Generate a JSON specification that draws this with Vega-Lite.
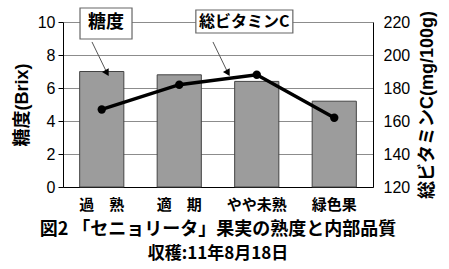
{
  "$schema": "https://vega.github.io/schema/vega-lite/v6.json",
  "width": 310,
  "height": 165,
  "autosize": "none",
  "padding": {"left": 63, "top": 22, "right": 76, "bottom": 82},
  "background": "white",
  "config": {
    "font": "Liberation Sans, Noto Sans CJK JP",
    "view": {"stroke": null},
    "axis": {
      "labelFont": "Liberation Sans, Noto Sans CJK JP",
      "titleFont": "Liberation Sans, Noto Sans CJK JP",
      "labelFontSize": 16,
      "labelColor": "black",
      "titleFontSize": 18,
      "titleColor": "black",
      "titleFontWeight": "bold",
      "domainColor": "black",
      "tickColor": "black",
      "gridColor": "#8c8c8c"
    }
  },
  "title": {
    "text": "図2 「セニョリータ」果実の熟度と内部品質",
    "subtitle": "収穫:11年8月18日",
    "orient": "bottom",
    "anchor": "middle",
    "frame": "group",
    "font": "Noto Sans CJK JP",
    "subtitleFont": "Noto Sans CJK JP",
    "fontSize": 18,
    "subtitleFontSize": 17,
    "fontWeight": "bold",
    "subtitleFontWeight": "bold",
    "color": "black",
    "subtitleColor": "black",
    "offset": 9,
    "subtitlePadding": 7
  },
  "datasets": {
    "main": [
      {"stage": "過　熟", "brix": 7.0, "vitc": 167},
      {"stage": "適　期", "brix": 6.8, "vitc": 182},
      {"stage": "やや未熟", "brix": 6.4, "vitc": 188},
      {"stage": "緑色果", "brix": 5.2, "vitc": 162}
    ],
    "arrows": [
      {"label": "糖度", "x1": 0.374, "y1": 8.79, "x2": 0.568, "y2": 6.91},
      {"label": "総ビタミンC", "x1": 1.935, "y1": 8.79, "x2": 2.129, "y2": 6.91}
    ],
    "box1": [{"label": "糖度", "bx": 0.555, "by": 9.91}],
    "box2": [{"label": "総ビタミンC", "bx": 2.34, "by": 10.03}]
  },
  "layer": [
    {
      "data": {"name": "main"},
      "mark": {"type": "bar", "fill": "#9c9c9c", "stroke": "#444444", "strokeWidth": 1},
      "encoding": {
        "x": {
          "field": "stage", "type": "nominal", "sort": null,
          "scale": {"paddingInner": 0.43, "paddingOuter": 0.215},
          "axis": {"title": null, "labelAngle": 0, "ticks": false, "labelPadding": 17, "labelFontSize": 15, "labelFont": "Noto Sans CJK JP", "labelFontWeight": "bold", "labelBaseline": "middle"}
        },
        "y": {
          "field": "brix", "type": "quantitative",
          "scale": {"domain": [0, 10]},
          "axis": {"title": "糖度(Brix)", "values": [0, 2, 4, 6, 8, 10], "grid": true, "tickSize": 5, "labelPadding": 3, "titlePadding": 6}
        }
      }
    },
    {
      "data": {"name": "main"},
      "mark": {"type": "line", "color": "black", "strokeWidth": 3.5, "point": {"filled": true, "color": "black", "size": 70}},
      "encoding": {
        "x": {
          "field": "stage", "type": "nominal", "sort": null,
          "scale": {"paddingInner": 0.43, "paddingOuter": 0.215},
          "axis": null
        },
        "y": {
          "field": "vitc", "type": "quantitative",
          "scale": {"domain": [120, 220]},
          "axis": {"orient": "right", "title": "総ビタミンC(mg/100g)", "values": [120, 140, 160, 180, 200, 220], "grid": false, "ticks": false, "labelPadding": 10, "titlePadding": 9, "titleAngle": 270, "titleBaseline": "top"}
        }
      }
    },
    {
      "data": {"name": "arrows"},
      "mark": {"type": "rule", "color": "#555555", "strokeWidth": 1},
      "encoding": {
        "x": {"field": "x1", "type": "quantitative", "scale": {"domain": [0, 4]}, "axis": null},
        "x2": {"field": "x2"},
        "y": {"field": "y1", "type": "quantitative", "scale": {"domain": [0, 10]}, "axis": null},
        "y2": {"field": "y2"}
      }
    },
    {
      "data": {"name": "arrows"},
      "mark": {"type": "point", "shape": "triangle-down", "filled": true, "color": "black", "size": 60, "angle": 330, "opacity": 1},
      "encoding": {
        "x": {"field": "x2", "type": "quantitative", "scale": {"domain": [0, 4]}, "axis": null},
        "y": {"field": "y2", "type": "quantitative", "scale": {"domain": [0, 10]}, "axis": null}
      }
    },
    {
      "data": {"name": "box1"},
      "mark": {"type": "point", "shape": "M-1,-0.596L1,-0.596L1,0.596L-1,0.596Z", "filled": true, "fill": "white", "stroke": "#666666", "strokeWidth": 1.2, "size": 2704, "opacity": 1},
      "encoding": {
        "x": {"field": "bx", "type": "quantitative", "scale": {"domain": [0, 4]}, "axis": null},
        "y": {"field": "by", "type": "quantitative", "scale": {"domain": [0, 10]}, "axis": null}
      }
    },
    {
      "data": {"name": "box2"},
      "mark": {"type": "point", "shape": "M-1,-0.237L1,-0.237L1,0.237L-1,0.237Z", "filled": true, "fill": "white", "stroke": "#666666", "strokeWidth": 1.2, "size": 9409, "opacity": 1},
      "encoding": {
        "x": {"field": "bx", "type": "quantitative", "scale": {"domain": [0, 4]}, "axis": null},
        "y": {"field": "by", "type": "quantitative", "scale": {"domain": [0, 10]}, "axis": null}
      }
    },
    {
      "data": {"name": "box1"},
      "mark": {"type": "text", "font": "Noto Sans CJK JP", "fontSize": 18, "fontWeight": "bold", "color": "black", "align": "center", "baseline": "middle"},
      "encoding": {
        "x": {"field": "bx", "type": "quantitative", "scale": {"domain": [0, 4]}, "axis": null},
        "y": {"field": "by", "type": "quantitative", "scale": {"domain": [0, 10]}, "axis": null},
        "text": {"field": "label"}
      }
    },
    {
      "data": {"name": "box2"},
      "mark": {"type": "text", "font": "Noto Sans CJK JP", "fontSize": 16, "fontWeight": "bold", "color": "black", "align": "center", "baseline": "middle"},
      "encoding": {
        "x": {"field": "bx", "type": "quantitative", "scale": {"domain": [0, 4]}, "axis": null},
        "y": {"field": "by", "type": "quantitative", "scale": {"domain": [0, 10]}, "axis": null},
        "text": {"field": "label"}
      }
    }
  ],
  "resolve": {"scale": {"x": "independent", "y": "independent"}}
}
